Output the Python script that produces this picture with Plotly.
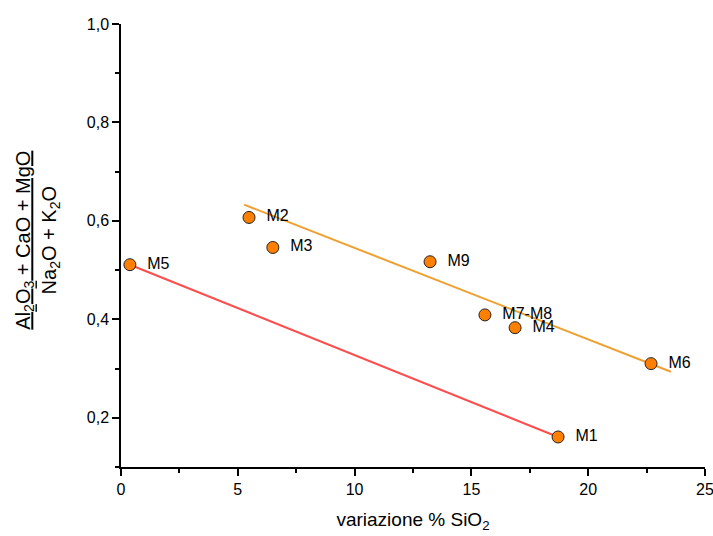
import plotly.graph_objects as go

labels = ["M1", "M2", "M3", "M4", "M5", "M6", "M7-M8", "M9"]
sio2_var = [18.71, 5.48, 6.5, 16.87, 0.38, 22.69, 15.58, 13.23]
ratio = [0.161, 0.607, 0.546, 0.383, 0.511, 0.310, 0.409, 0.517]

fit1_x = [0.38, 18.71]
fit1_y = [0.511, 0.161]
fit2_x = [5.27, 23.54]
fit2_y = [0.633, 0.2935]

font_family = "Liberation Sans, Arial, sans-serif"

fig = go.Figure()
fig.add_trace(go.Scatter(x=fit1_x, y=fit1_y, mode="lines",
                         line=dict(color="#FF4D4D", width=2), showlegend=False, hoverinfo="skip"))
fig.add_trace(go.Scatter(x=fit2_x, y=fit2_y, mode="lines",
                         line=dict(color="#F0A030", width=2), showlegend=False, hoverinfo="skip"))
fig.add_trace(go.Scatter(x=sio2_var, y=ratio, mode="markers+text", text=labels,
                         texttemplate="\u00a0\u00a0%{text}",
                         textposition="middle right",
                         textfont=dict(family=font_family, size=16, color="black"),
                         marker=dict(size=12, color="#FF8000", line=dict(color="#222222", width=1)),
                         cliponaxis=False, showlegend=False))

axis_common = dict(showgrid=False, zeroline=False, showline=True, linecolor="black", linewidth=1.5,
                   ticks="outside", ticklen=7, tickwidth=1.5, tickcolor="black", automargin=False,
                   ticklabeloverflow="allow",
                   tickfont=dict(family=font_family, size=16, color="black"))

fig.update_xaxes(range=[0, 25], dtick=5, tick0=0,
                 minor=dict(dtick=2.5, ticks="outside", ticklen=4, tickcolor="black", tickwidth=1.5),
                 title=dict(text="variazione % SiO<sub>2</sub>", font=dict(family=font_family, size=19, color="black"), standoff=16),
                 **axis_common)
fig.update_yaxes(range=[0.1, 1.0], dtick=0.2, tick0=0, tickformat=".1f",
                 minor=dict(dtick=0.1, ticks="outside", ticklen=4, tickcolor="black", tickwidth=1.5),
                 **axis_common)

fig.add_annotation(text="<u>Al<sub>2</sub>O<sub>3</sub> + CaO + MgO</u><br>Na<sub>2</sub>O + K<sub>2</sub>O",
                   xref="paper", yref="paper", x=-0.143, y=0.512, xanchor="center", yanchor="middle",
                   textangle=-90, showarrow=False,
                   font=dict(family=font_family, size=20, color="black"))

fig.update_layout(width=713, height=536, margin=dict(l=121, r=8, t=24, b=69),
                  plot_bgcolor="white", paper_bgcolor="white", separators=",.",
                  font=dict(family=font_family))

fig.write_html("out.html")
